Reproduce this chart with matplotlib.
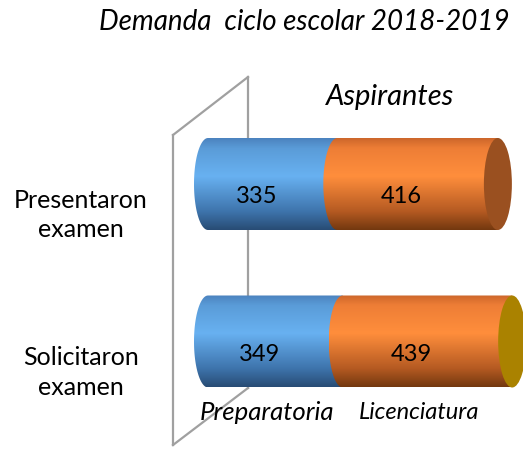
import numpy as np
import matplotlib
matplotlib.use("Agg")
import matplotlib.pyplot as plt
from matplotlib.path import Path
from matplotlib.patches import PathPatch, Ellipse
from matplotlib.colors import LinearSegmentedColormap
from matplotlib.lines import Line2D

# ---- data ----
categories = ["Solicitaron\nexamen", "Presentaron\nexamen"]
series_names = ["Preparatoria", "Licenciatura"]
preparatoria = [349, 335]
licenciatura = [439, 416]
title = "Demanda  ciclo escolar 2018-2019"
subtitle = "Aspirantes"

FONT = "Lato"
W, H = 523, 449
fig = plt.figure(figsize=(W / 100, H / 100), dpi=100)
ax = fig.add_axes([0, 0, 1, 1])
ax.set_axis_off()

# pixel geometry of the plot
X0, S = 208.0, 0.386        # pixel of value 0, pixels per unit
Y0, SY = 341.5, 157.5       # pixel of category 0, pixels per category step
ax.set_xlim(-X0 / S, (W - X0) / S)
ax.set_ylim((Y0 - H) / SY, Y0 / SY)

bar_h = 92 / SY
a = 14 / S                  # ellipse half-width in data units

cmaps = [
    LinearSegmentedColormap.from_list("b", [(0, "#4A80BC"), (0.12, "#5A9CD8"), (0.42, "#68B1F1"),
                                            (0.8, "#3E74AC"), (1, "#284C74")]),
    LinearSegmentedColormap.from_list("o", [(0, "#C9642A"), (0.12, "#EE7E36"), (0.42, "#FF8E3C"),
                                            (0.8, "#B55A22"), (1, "#73380F")]),
]
cap_colors = ["#AA8200", "#9A5020"]

# wall (decoration, pixel coords)
def pix(x, y):
    return x / W, 1 - y / H
for (xa, ya), (xb, yb), z in [((248, 77), (248, 388), 0), ((173, 135), (248, 77), 0),
                              ((173, 445), (248, 388), 0), ((173, 135), (173, 445), 5)]:
    p1, p2 = pix(xa, ya), pix(xb, yb)
    fig.add_artist(Line2D([p1[0], p2[0]], [p1[1], p2[1]], color="#A0A0A0", lw=1.6, zorder=z))

def seg_path(x0, x1, yc):
    t = np.linspace(np.pi / 2, 3 * np.pi / 2, 60)
    xs = x0 + a * np.cos(t)
    ys = yc + bar_h / 2 * np.sin(t)
    verts = list(zip(xs, ys)) + [(x1, yc - bar_h / 2), (x1, yc + bar_h / 2), (xs[0], ys[0])]
    return Path(verts, closed=True)

grad = np.linspace(0, 1, 256).reshape(-1, 1)
for i, cat in enumerate(categories):
    vals = [preparatoria[i], licenciatura[i]]
    start = 0
    for j, v in enumerate(vals):
        end = start + v
        patch = PathPatch(seg_path(start, end, i), facecolor="none", edgecolor="none", zorder=2 + j)
        ax.add_patch(patch)
        im = ax.imshow(grad, cmap=cmaps[j], aspect="auto", interpolation="bilinear",
                       extent=[start - a, end, i - bar_h / 2, i + bar_h / 2], zorder=2 + j)
        im.set_clip_path(patch)
        ax.annotate(str(v), xy=((start + end) / 2, i), xytext=(-16, -13), textcoords="offset pixels",
                    ha="center", va="center", fontsize=17, family=FONT, color="black", zorder=10)
        start = end
    ax.add_patch(Ellipse((start, i), 2 * a, bar_h, facecolor=cap_colors[i], edgecolor="none", zorder=5))
    ax.annotate(cat, xy=(81 / W, i), xycoords=("axes fraction", "data"), xytext=(0, -31),
                textcoords="offset pixels", ha="center", va="center", fontsize=18, family=FONT,
                linespacing=1.35, multialignment="center")

# series names below the bottom bar
start = 0
sizes = [18.5, 17]
for j, (name, vals) in enumerate(zip(series_names, [preparatoria, licenciatura])):
    v = vals[0]
    ax.annotate(name, xy=(start + v / 2, 0), xytext=(-8, -71), textcoords="offset pixels",
                ha="center", va="center", fontsize=sizes[j], family=FONT, style="italic", zorder=10)
    start += v

fig.text(304 / W, 1 - 30 / H, title, ha="center", va="baseline", fontsize=20, family=FONT, style="italic")
fig.text(390 / W, 1 - 105 / H, subtitle, ha="center", va="baseline", fontsize=21, family=FONT, style="italic")

fig.savefig("out.png", dpi=100, facecolor="white")
